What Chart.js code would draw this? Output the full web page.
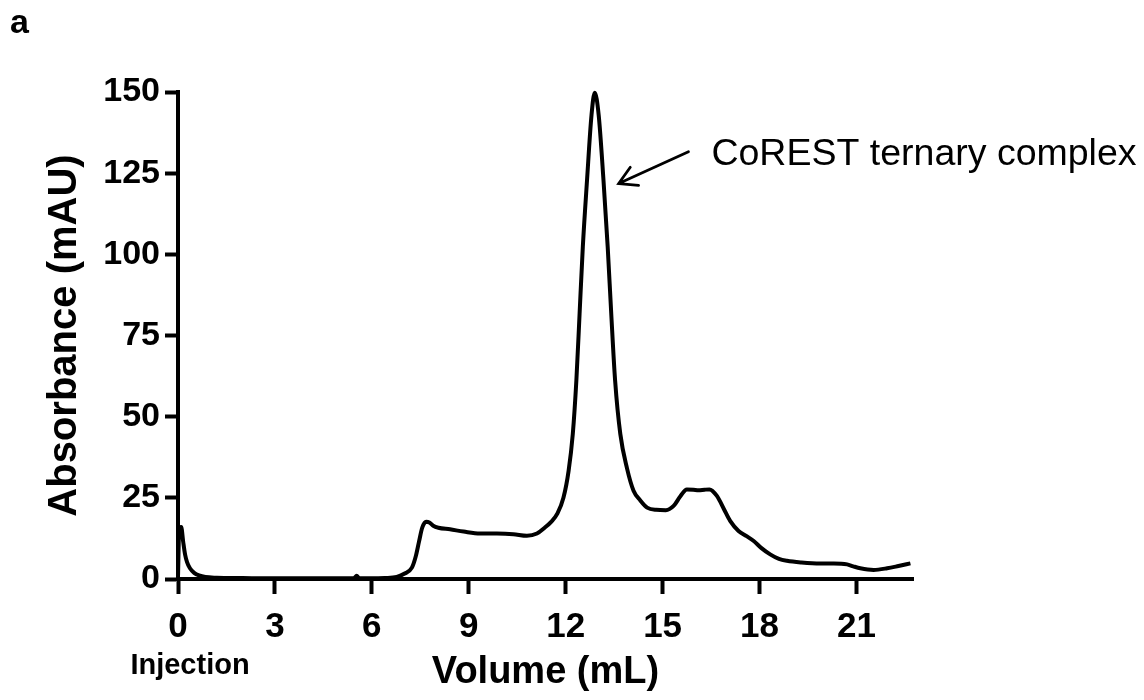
<!DOCTYPE html>
<html>
<head>
<meta charset="utf-8">
<title>CoREST SEC profile</title>
<script src="https://cdn.jsdelivr.net/npm/chart.js@4.4.1/dist/chart.umd.min.js"></script>
<style>
  html, body { margin: 0; padding: 0; background: #fff; }
  #wrap { width: 1144px; height: 700px; }
</style>
</head>
<body>
<div id="wrap">
  <canvas id="secChart" width="1144" height="700"></canvas>
</div>
<script>
// elution volume (mL) and UV absorbance (mAU) of the size-exclusion run
const volume = [
  0.00, 0.04, 0.10, 0.16, 0.22, 0.28, 0.37, 0.50, 0.65, 0.85,
  1.20, 2.00, 3.00, 4.00, 5.00, 5.45, 5.53, 5.60, 6.00, 6.40,
  6.77, 7.00, 7.24, 7.36, 7.46, 7.56, 7.68, 7.78, 7.90, 8.06,
  8.42, 8.84, 9.35, 9.87, 10.38, 10.80, 11.11, 11.35, 11.55, 11.75,
  11.93, 12.09, 12.22, 12.33, 12.43, 12.53, 12.66, 12.80, 12.90, 13.02,
  13.17, 13.30, 13.41, 13.53, 13.69, 13.90, 14.10, 14.31, 14.52, 14.80,
  15.10, 15.34, 15.55, 15.75, 15.95, 16.11, 16.30, 16.45, 16.68, 16.90,
  17.09, 17.35, 17.60, 17.82, 18.05, 18.33, 18.60, 18.85, 19.30, 19.88,
  20.30, 20.71, 20.90, 21.12, 21.53, 21.95, 22.30, 22.67
];
const absorbance = [
  0.5, 15.8, 16.0, 11.5, 7.5, 5.2, 3.3, 1.9, 1.1, 0.6,
  0.4, 0.3, 0.2, 0.2, 0.2, 0.3, 1.0, 0.3, 0.2, 0.3,
  0.6, 1.6, 3.5, 7.0, 11.5, 15.8, 17.6, 17.4, 16.4, 15.8,
  15.3, 14.6, 14.0, 14.0, 13.8, 13.3, 14.0, 15.8, 17.6, 20.3,
  25.0, 33.3, 44.7, 61.1, 81.7, 102.3, 122.8, 143.0, 149.8, 143.0,
  122.8, 102.3, 81.7, 61.1, 44.7, 34.0, 27.2, 24.2, 22.0, 21.3,
  21.2, 22.5, 25.5, 27.6, 27.5, 27.3, 27.5, 27.6, 25.6, 21.5,
  17.9, 14.8, 13.2, 11.7, 9.6, 7.6, 6.2, 5.6, 5.1, 4.8,
  4.8, 4.5, 3.9, 3.3, 2.8, 3.3, 4.0, 4.8
];

const xTicks = [0, 3, 6, 9, 12, 15, 18, 21];
const yTicks = [0, 25, 50, 75, 100, 125, 150];

const FONT = '"Liberation Sans", Arial, Helvetica, sans-serif';
const NARROW = '"Liberation Sans Narrow", "Arial Narrow", "Liberation Sans", sans-serif';

// text and arrow around the plot
const annotations = {
  id: 'annotations',
  afterDraw(chart) {
    const { ctx, scales: { x, y } } = chart;
    ctx.save();
    ctx.fillStyle = '#000';
    ctx.strokeStyle = '#000';

    ctx.font = 'bold 34px ' + FONT;
    ctx.textAlign = 'left';
    ctx.textBaseline = 'alphabetic';
    ctx.fillText('a', 10, 33);

    ctx.font = 'bold 29px ' + FONT;
    ctx.textAlign = 'center';
    ctx.textBaseline = 'middle';
    ctx.fillText('Injection', x.getPixelForValue(0) + 12, 666);

    // arrow to the main peak
    const tipX = x.getPixelForValue(13.64), tipY = y.getPixelForValue(121.8);
    const tailX = x.getPixelForValue(15.80), tailY = y.getPixelForValue(131.6);
    const ang = Math.atan2(tailY - tipY, tailX - tipX);
    const head = 20, spread = Math.PI / 6;
    ctx.lineWidth = 2.8;
    ctx.lineCap = 'round';
    ctx.beginPath();
    ctx.moveTo(tailX, tailY);
    ctx.lineTo(tipX, tipY);
    ctx.moveTo(tipX + head * Math.cos(ang - spread), tipY + head * Math.sin(ang - spread));
    ctx.lineTo(tipX, tipY);
    ctx.lineTo(tipX + head * Math.cos(ang + spread), tipY + head * Math.sin(ang + spread));
    ctx.stroke();

    ctx.font = '37.5px ' + FONT;
    ctx.textAlign = 'left';
    ctx.textBaseline = 'alphabetic';
    ctx.fillText('CoREST ternary complex', x.getPixelForValue(16.51), y.getPixelForValue(127.5));
    ctx.restore();
  }
};

new Chart(document.getElementById('secChart'), {
  type: 'line',
  data: {
    datasets: [{
      data: volume.map((v, i) => ({ x: v, y: absorbance[i] })),
      borderColor: '#000',
      borderWidth: 4,
      pointRadius: 0,
      cubicInterpolationMode: 'monotone',
      clip: 6
    }]
  },
  options: {
    responsive: false,
    animation: false,
    devicePixelRatio: 1,
    layout: { padding: { top: 92, right: 231, bottom: 0, left: 0 } },
    plugins: { legend: { display: false }, tooltip: { enabled: false } },
    scales: {
      x: {
        type: 'linear',
        min: 0,
        max: 22.75,
        afterBuildTicks: s => { s.ticks = xTicks.map(v => ({ value: v })); },
        afterFit: s => { s.height = 121; },
        border: { color: '#000', width: 4 },
        grid: { drawOnChartArea: false, tickLength: 15, tickWidth: 4, tickColor: '#000' },
        ticks: { color: '#000', padding: 12, maxRotation: 0, font: { family: NARROW, size: 35, weight: 'bold' } },
        title: {
          display: true, text: 'Volume (mL)', color: '#000',
          font: { family: FONT, size: 38, weight: 'bold' }, padding: { top: 0, bottom: 5 }
        }
      },
      y: {
        min: 0,
        max: 150,
        afterBuildTicks: s => { s.ticks = yTicks.map(v => ({ value: v })); },
        afterFit: s => { s.width = 178; },
        border: { color: '#000', width: 4 },
        grid: { drawOnChartArea: false, tickLength: 13, tickWidth: 4, tickColor: '#000' },
        ticks: { color: '#000', padding: 5, font: { family: FONT, size: 34, weight: 'bold' } },
        title: {
          display: true, text: 'Absorbance (mAU)', color: '#000',
          font: { family: FONT, size: 40, weight: 'bold' }, padding: { top: 41, bottom: 0 }
        }
      }
    }
  },
  plugins: [annotations]
});
</script>
</body>
</html>
